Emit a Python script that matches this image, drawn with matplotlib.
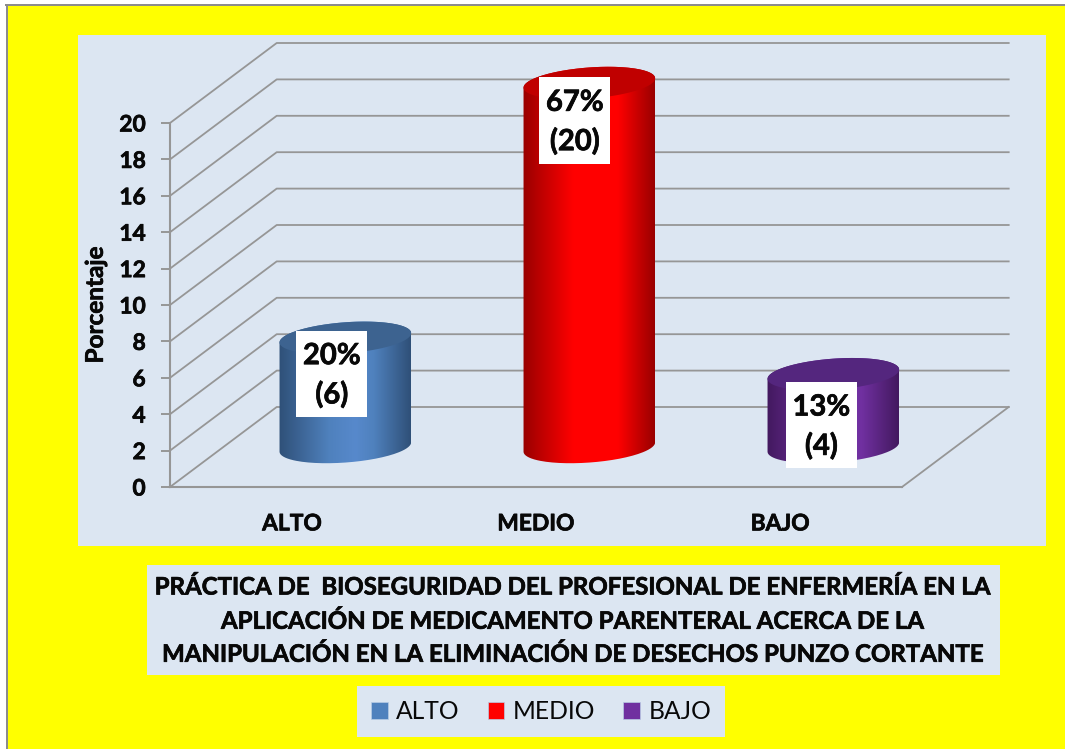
# -*- coding: utf-8 -*-
import numpy as np
import matplotlib
matplotlib.use('Agg')
import matplotlib.pyplot as plt
import matplotlib.patheffects as pe
from matplotlib.patches import Polygon, Rectangle, PathPatch
from matplotlib.path import Path
from matplotlib.colors import LinearSegmentedColormap
from matplotlib.transforms import Affine2D

plt.rcParams['font.family'] = ['Lato', 'DejaVu Sans']

# data
categories = ['ALTO', 'MEDIO', 'BAJO']
values = [6, 20, 4]
percents = ['20%', '67%', '13%']
yticks = list(range(0, 21, 2))
title_lines = ['PRÁCTICA DE  BIOSEGURIDAD DEL PROFESIONAL DE ENFERMERÍA EN LA',
               'APLICACIÓN DE MEDICAMENTO PARENTERAL ACERCA DE LA',
               'MANIPULACIÓN EN LA ELIMINACIÓN DE DESECHOS PUNZO CORTANTE']

# colours
base_col = ['#4F81BD', '#FF0000', '#7030A0']
light_col = ['#5789CC', '#FF0000', '#7232A6']
dark_col = ['#2F5078', '#990000', '#43195F']
cap_col = ['#3D6390', '#C00000', '#54267E']
panel = '#DCE6F2'
grid = '#969696'
ink = '#080808'
thick = [pe.withStroke(linewidth=0.5, foreground=ink)]

W, H = 1065, 749
fig = plt.figure(figsize=(W / 100, H / 100), dpi=100, facecolor='#FFFF00')

# axes = front plane of the 3d box, in pixels
x0, x1, y0, y20 = 170, 902, 487, 123
ax = fig.add_axes([x0 / W, 1 - y0 / H, (x1 - x0) / W, (y0 - y20) / H])
ax.patch.set_visible(False)
px = Affine2D().scale(1 / W, -1 / H).translate(0, 1) + fig.transFigure

XMIN, XMAX, YMAX = -0.5, 2.5, 20
sx = (x1 - x0) / (XMAX - XMIN)   # pixels per category
sy = (y0 - y20) / YMAX           # pixels per unit
depth_x = 106.7 / sx
depth_y = 80 / sy


def box(x, y, w, h, col, z=0):
    ax.add_patch(Rectangle((x, y), w, h, transform=px, facecolor=col,
                           edgecolor='none', clip_on=False, zorder=z))


# white margin, gray outline, chart and title panels
box(0, 0, W, 5, 'white', -5)
box(0, 0, 6, H, 'white', -5)
box(5, 4, W, 2, '#8C8C8C', -4)
box(6, 4, 2, H, '#8C8C8C', -4)
box(78, 35, 968, 511, panel, -3)
box(147, 565, 853, 110, panel, -3)

# walls
for v in yticks:
    ax.plot([XMIN, XMIN + depth_x, XMAX + depth_x],
            [v, v + depth_y, v + depth_y],
            color=grid, lw=1.3, clip_on=False, zorder=1)
ax.plot([XMAX, XMAX + depth_x], [0, depth_y], color=grid, lw=1.3,
        clip_on=False, zorder=1)

# cylinders
a, b, tilt = 66.0, 15.5, np.radians(4.3)


def ring(cx, cy, t):
    ex = a * np.cos(t) * np.cos(tilt) - b * np.sin(t) * np.sin(tilt)
    ey = a * np.cos(t) * np.sin(tilt) + b * np.sin(t) * np.cos(tilt)
    return np.column_stack((cx + ex / sx, cy + ey / sy))


label_dx = [-13.5, -14.5, -12]
label_dy = [36, 37.5, 51]
for i, v in enumerate(values):
    cx = i + depth_x / 2
    cy = depth_y / 2
    low = ring(cx, cy, np.linspace(np.pi, 2 * np.pi, 80))
    up = ring(cx, cy + v, np.linspace(0, np.pi, 80))
    body = np.vstack((low, up))
    clip = PathPatch(Path(np.vstack((body, body[:1]))), transform=ax.transData)
    cmap = LinearSegmentedColormap.from_list(
        'c', [(0, dark_col[i]), (0.38, base_col[i]), (0.58, light_col[i]),
              (0.72, base_col[i]), (1, dark_col[i])])
    im = ax.imshow(np.linspace(0, 1, 256).reshape(1, -1), cmap=cmap, aspect='auto',
                   extent=(cx - a / sx, cx + a / sx, cy - 30 / sy, cy + v + 30 / sy),
                   zorder=2, interpolation='bilinear')
    im.set_clip_path(clip)
    im.set_clip_box(fig.bbox)
    ax.add_patch(Polygon(ring(cx, cy + v, np.linspace(0, 2 * np.pi, 160)),
                         facecolor=cap_col[i], edgecolor='none', clip_on=False,
                         zorder=3))

    # data label
    lx = cx + label_dx[i] / sx
    ly = cy + v - label_dy[i] / sy
    lw, lh = 71 / sx, 86 / sy
    ax.add_patch(Rectangle((lx - lw / 2, ly - lh / 2), lw, lh, facecolor='white',
                           edgecolor='none', clip_on=False, zorder=4))
    ax.text(lx, ly - 2 / sy, '%s\n(%d)' % (percents[i], v), ha='center', va='center',
            fontsize=21, fontweight='bold', color=ink, linespacing=1.55, zorder=5,
            path_effects=thick)

ax.set_xlim(XMIN, XMAX)
ax.set_ylim(0, YMAX)

# axes
for s in ['top', 'right']:
    ax.spines[s].set_visible(False)
for s in ['left', 'bottom']:
    ax.spines[s].set_color(grid)
    ax.spines[s].set_linewidth(1.5)
ax.set_xticks(range(len(categories)))
ax.set_xticklabels(categories, fontsize=16.4, fontweight='bold', color=ink, path_effects=thick)
ax.set_yticks(yticks)
ax.tick_params(axis='x', length=0, pad=19)
ax.tick_params(axis='y', length=6.5, width=1.4, color=grid, pad=11, labelsize=16.4,
               labelcolor=ink)
for t in ax.get_yticklabels():
    t.set_fontweight('bold')
    t.set_path_effects(thick)
ax.set_ylabel('Porcentaje', fontsize=17.5, fontweight='bold', color=ink, labelpad=9,
              path_effects=thick)

# title
for t, yy in zip(title_lines, [587, 621, 654]):
    ax.text(571, yy, t, transform=px, ha='center', va='center', fontsize=17.3,
            fontweight='bold', color=ink, clip_on=False, path_effects=thick)

# legend
handles = [Rectangle((0, 0), 1, 1, facecolor=c, edgecolor='#B8CCE4', lw=0.5) for c in base_col]
leg = fig.legend(handles, categories, loc='center', ncol=3, frameon=True,
                 bbox_to_anchor=(541 / W, 1 - 711.5 / H), fontsize=17.7, fancybox=False,
                 facecolor=panel, edgecolor='none', framealpha=1, borderpad=0.58,
                 handlelength=0.68, handleheight=0.68, handletextpad=0.34,
                 columnspacing=1.15, labelcolor=ink, borderaxespad=0)

fig.savefig('out.png', dpi=100, facecolor=fig.get_facecolor())
